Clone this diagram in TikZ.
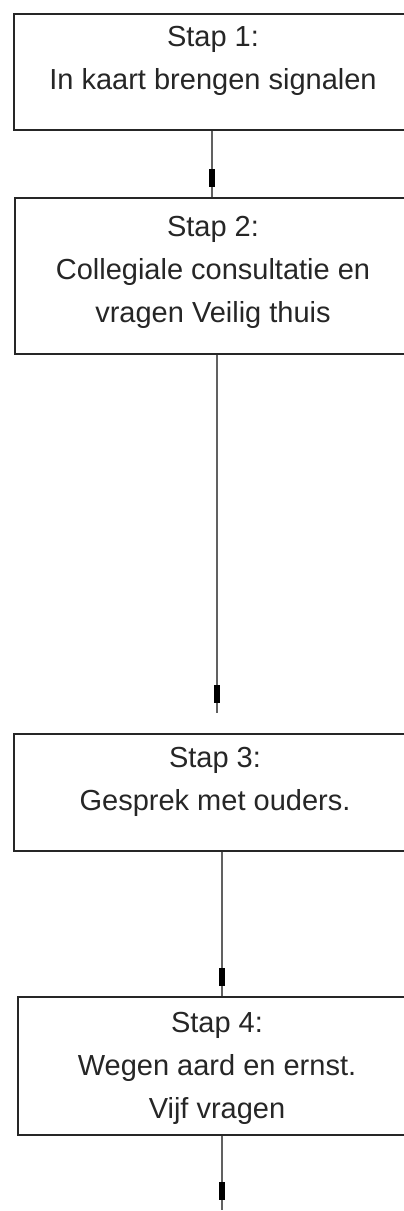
\documentclass[tikz,border=0pt]{standalone}
\usepackage{fontspec}
\setmainfont{Liberation Sans}
\usetikzlibrary{decorations.markings}
\begin{document}
\begin{tikzpicture}[x=1pt,y=-1pt,
  box/.style={draw=black!85, line width=1.6pt, anchor=north west, inner sep=0pt},
  txt/.style={anchor=north, align=center, inner sep=0pt, text=black!85, font=\fontsize{29}{43}\selectfont},
  conn/.style={draw=black!62, line width=2.2pt,
    decoration={markings, mark=at position -10pt with {\fill[black] (-18pt,-2.6pt) rectangle (0pt,2.6pt);}},
    postaction=decorate}]
\useasboundingbox (0,0) rectangle (404,1211);
\clip (0,0) rectangle (404,1211);
\fill[white] (0,0) rectangle (404,1211);

\node[box, minimum width=400pt, minimum height=116pt] (b1) at (13,13) {};
\node[box, minimum width=398pt, minimum height=156pt] (b2) at (14,197) {};
\node[box, minimum width=404pt, minimum height=117pt] (b3) at (13,733) {};
\node[box, minimum width=400pt, minimum height=138pt] (b4) at (17,996) {};

\node[txt] (t1) at (213,26) {Stap 1:\\In kaart brengen signalen};
\node[txt] (t2) at (213,216) {Stap 2:\\Collegiale consultatie en\\vragen Veilig thuis};
\node[txt] (t3) at (215,747) {Stap 3:\\Gesprek met ouders.};
\node[txt] (t4) at (217,1012) {Stap 4:\\Wegen aard en ernst.\\Vijf vragen};

\coordinate (x1) at (212,0);
\coordinate (x2) at (217,0);
\coordinate (x3) at (222,0);
\coordinate (e2) at (217,713);
\coordinate (e4) at (222,1210);

\draw[conn] (b1.south -| x1) -- (b2.north -| x1);
\draw[conn] (b2.south -| x2) -- (e2);
\draw[conn] (b3.south -| x3) -- (b4.north -| x3);
\draw[conn] (b4.south -| x3) -- (e4);
\end{tikzpicture}
\end{document}
